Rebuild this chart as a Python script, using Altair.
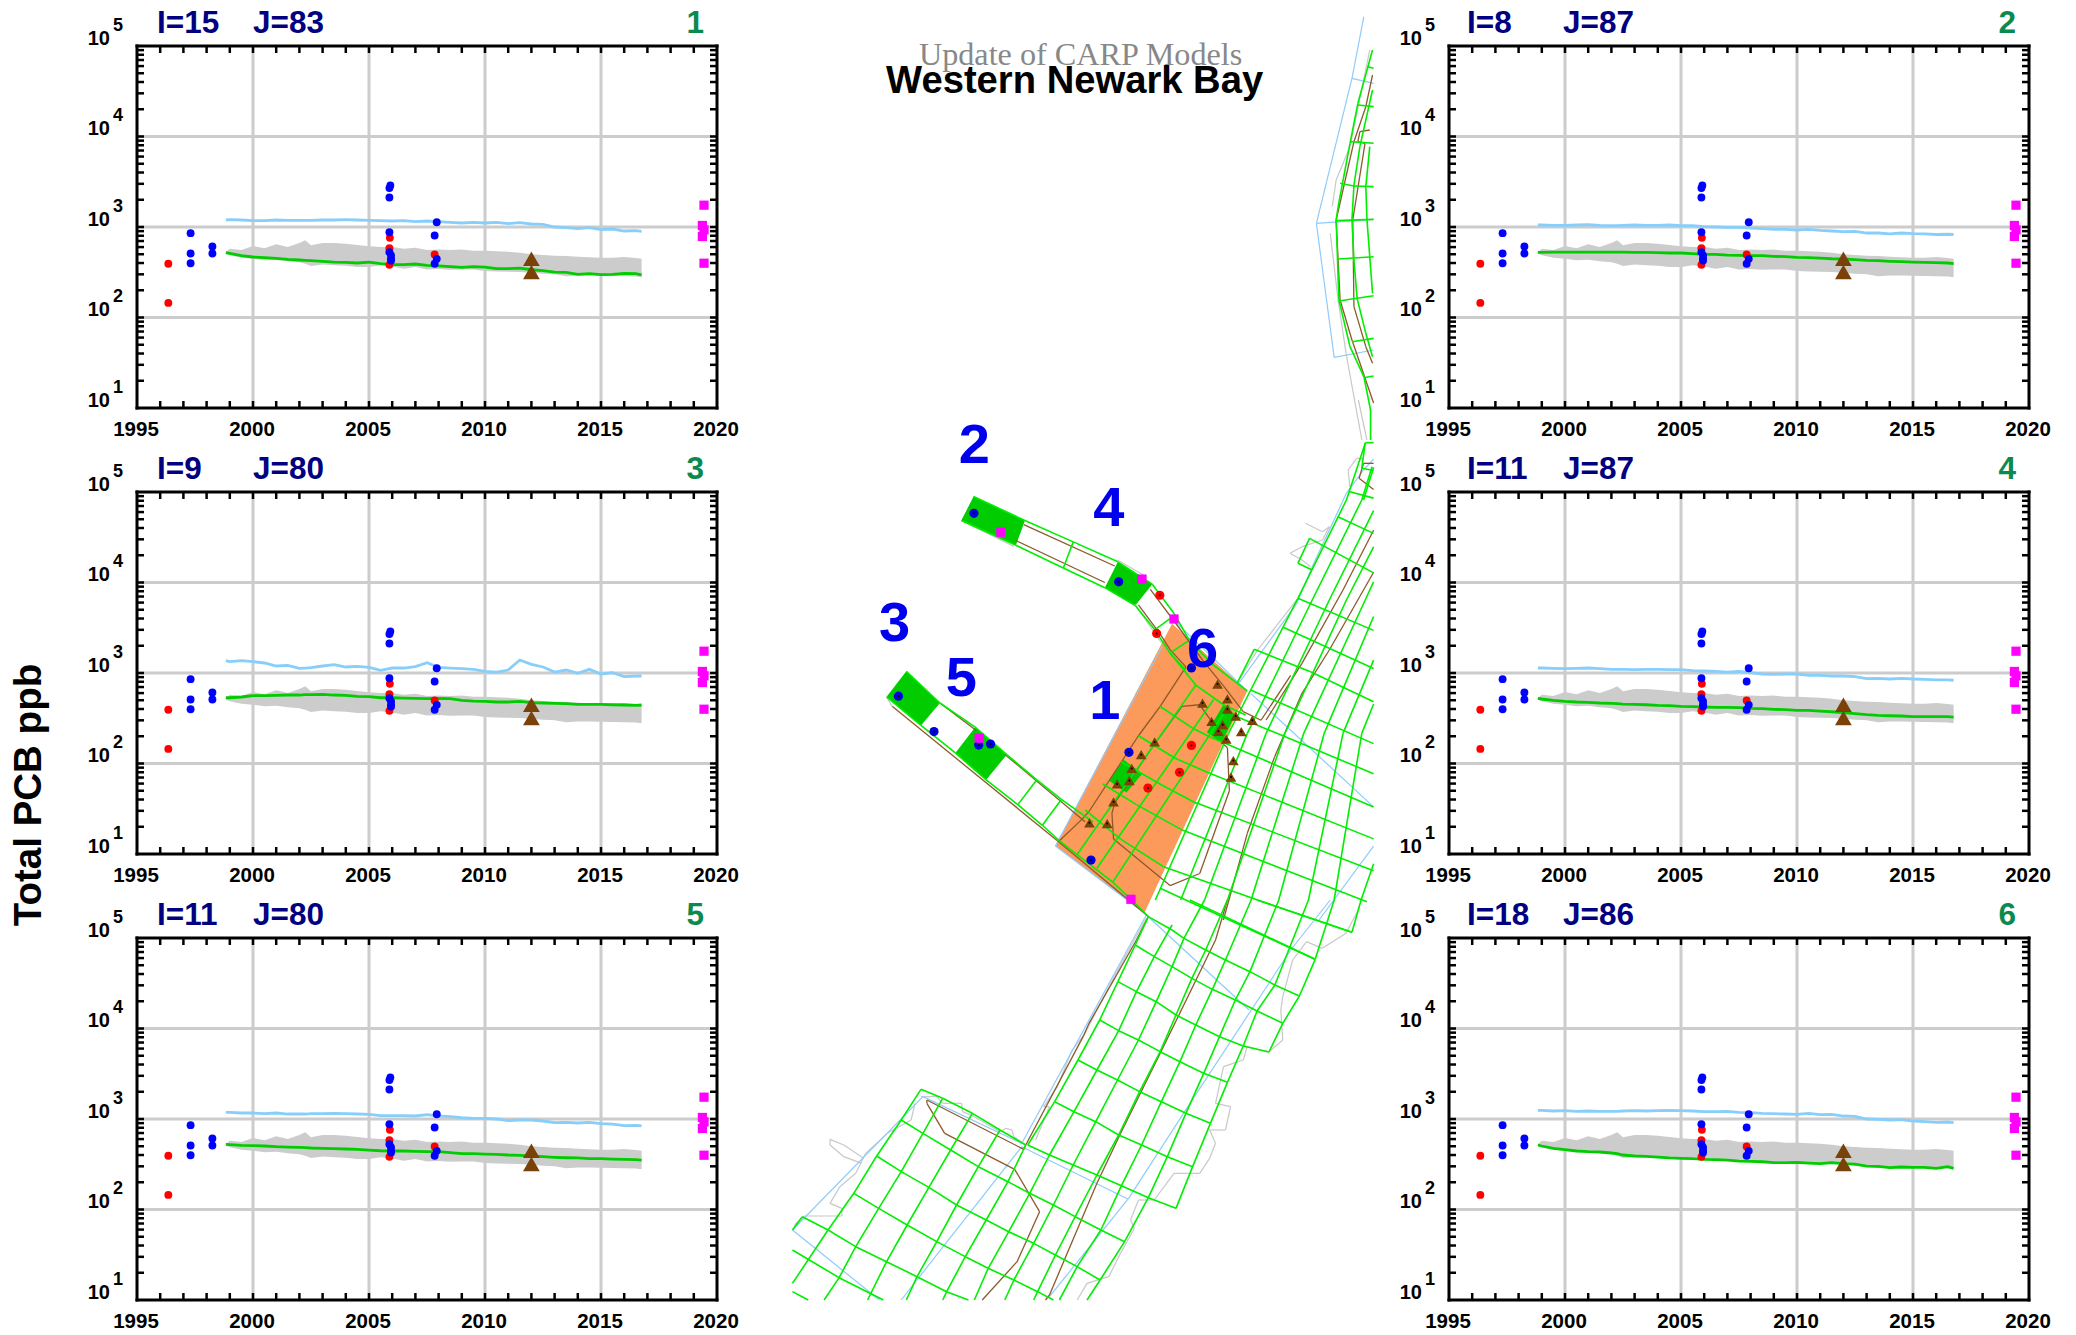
import altair as alt
import pandas as pd

FONT = "Liberation Sans"
YEARS = [1998.83, 1999, 1999.5, 2000, 2000.5, 2001, 2001.5, 2002, 2002.25, 2002.5, 2003, 2003.5, 2004, 2004.5,
         2005, 2005.5, 2006, 2006.5, 2007, 2007.5, 2008, 2008.5, 2009, 2009.5, 2010, 2010.5, 2011, 2011.5,
         2012, 2012.5, 2013, 2013.5, 2014, 2014.5, 2015, 2015.5, 2016, 2016.5, 2016.75]
BAND_HI = [529, 576, 558, 617, 583, 643, 601, 665, 712, 627, 665, 665, 654, 631, 612, 601, 601, 576, 590, 558, 563,
           558, 563, 547, 547, 538, 533, 520, 499, 490, 482, 478, 470, 462, 458, 458, 466, 454, 446]
BAND_LO = [507, 486, 458, 446, 428, 435, 418, 407, 393, 371, 386, 377, 373, 361, 361, 377, 367, 346, 361, 340, 343,
           337, 340, 340, 326, 323, 321, 318, 313, 305, 300, 285, 292, 292, 290, 287, 285, 283, 278]
SKY = {
    1: [1195, 1205, 1195, 1175, 1175, 1195, 1185, 1185, 1185, 1185, 1195, 1195, 1205, 1195, 1185, 1175, 1165, 1175, 1145, 1165, 1145, 1126, 1107, 1126, 1107, 1126, 1088, 1116, 1079, 1070, 1000, 983, 958, 983, 934, 950, 903, 911, 896],
    2: [1052, 1052, 1043, 1043, 1052, 1061, 1043, 1034, 1034, 1043, 1052, 1043, 1043, 1052, 1034, 1034, 1008, 1000, 992, 992, 975, 958, 942, 942, 926, 942, 919, 903, 888, 896, 858, 858, 838, 858, 844, 838, 826, 832, 826],
    3: [1368, 1335, 1368, 1335, 1290, 1195, 1215, 1126, 1135, 1145, 1195, 1236, 1165, 1185, 1155, 1070, 1135, 1135, 1175, 1301, 1155, 1135, 1116, 1097, 1043, 1025, 1079, 1392, 1247, 1165, 1025, 1079, 992, 1097, 975, 1008, 911, 926, 926],
    4: [1135, 1135, 1126, 1116, 1126, 1135, 1116, 1097, 1097, 1097, 1088, 1097, 1097, 1088, 1088, 1061, 1052, 1043, 1025, 1043, 1008, 975, 966, 975, 975, 942, 942, 926, 926, 911, 866, 873, 858, 873, 858, 851, 838, 838, 832],
    5: [1185, 1185, 1165, 1165, 1145, 1165, 1135, 1135, 1135, 1145, 1145, 1155, 1145, 1135, 1126, 1088, 1088, 1088, 1079, 1116, 1079, 1061, 1034, 1017, 1017, 1000, 958, 975, 975, 950, 911, 919, 903, 919, 888, 880, 844, 851, 838],
    6: [1247, 1247, 1226, 1236, 1215, 1226, 1215, 1215, 1215, 1226, 1236, 1226, 1236, 1247, 1236, 1226, 1205, 1205, 1215, 1185, 1175, 1155, 1145, 1135, 1126, 1155, 1116, 1126, 1079, 1070, 1000, 992, 975, 983, 950, 934, 919, 926, 911],
}
GREEN = {
    1: [520, 511, 482, 466, 458, 450, 439, 432, 428, 424, 418, 410, 407, 400, 410, 393, 383, 383, 390, 377, 371, 364, 358, 364, 361, 346, 346, 352, 337, 329, 318, 315, 300, 305, 297, 300, 307, 305, 295],
    2: [524, 524, 529, 529, 529, 529, 529, 529, 529, 529, 524, 524, 520, 516, 516, 507, 499, 499, 490, 486, 482, 482, 474, 470, 462, 458, 454, 446, 443, 435, 428, 424, 418, 414, 410, 407, 403, 400, 393],
    3: [533, 533, 543, 561, 561, 566, 571, 571, 576, 576, 581, 571, 566, 552, 547, 533, 533, 529, 524, 520, 524, 520, 499, 490, 486, 478, 478, 486, 470, 466, 462, 458, 450, 450, 450, 446, 443, 439, 443],
    4: [524, 516, 499, 486, 478, 474, 466, 462, 458, 454, 450, 446, 439, 435, 428, 424, 421, 418, 418, 414, 407, 403, 397, 393, 386, 386, 380, 373, 364, 355, 346, 340, 337, 335, 329, 329, 329, 329, 326],
    5: [524, 520, 511, 507, 503, 494, 490, 486, 482, 478, 474, 470, 466, 462, 454, 446, 443, 443, 439, 435, 435, 424, 414, 414, 410, 407, 400, 397, 390, 383, 377, 373, 371, 364, 364, 361, 358, 355, 352],
    6: [516, 503, 474, 458, 443, 435, 432, 421, 414, 400, 390, 386, 380, 371, 367, 364, 358, 355, 352, 343, 340, 337, 329, 329, 332, 326, 321, 329, 321, 318, 302, 300, 290, 295, 292, 292, 285, 297, 285],
}
RED_X = [1996.35, 1996.35, 2005.9, 2005.88, 2005.88, 2007.83]
RED_Y = [392, 145, 759, 583, 382, 496]
BLUE_X = [1997.31, 1997.31, 1997.31, 1998.25, 1998.25, 2005.92, 2005.88, 2005.88, 2005.88, 2005.88, 2005.95, 2005.95, 2005.95, 2007.92, 2007.83, 2007.92, 2007.83]
BLUE_Y = [855, 509, 398, 608, 509, 2878, 2690, 2120, 876, 527, 484, 445, 426, 1130, 805, 445, 392]
MAG_X = [2019.44, 2019.37, 2019.44, 2019.37, 2019.44]
MAG_Y = [1742, 1040, 931, 785, 398]
TRI_X = [2012, 2012]
TRI_Y = [445, 319]
PANEL_I = {1: "I=15", 2: "I=8", 3: "I=9", 4: "I=11", 5: "I=11", 6: "I=18"}
PANEL_J = {1: "J=83", 2: "J=87", 3: "J=80", 4: "J=87", 5: "J=80", 6: "J=86"}
XLAB = [1995, 2000, 2005, 2010, 2015, 2020]
XGRID = [2000, 2005, 2010, 2015]
XTICKS = list(range(1996, 2020))
DECADES = [10, 100, 1000, 10000, 100000]
EXPS = ["1", "2", "3", "4", "5"]
YTICKS = [m * 10 ** e for e in range(1, 5) for m in range(2, 10)] + [100, 1000, 10000]

W, H = 580, 362
xs = alt.Scale(domain=[1995, 2020], nice=False, zero=False)
ys = alt.Scale(type="log", domain=[10, 100000], nice=False)
axis_x = alt.Axis(values=XLAB, format="d", grid=False, domain=False, ticks=False, labelFont=FONT,
                  labelFontSize=20.5, labelFontWeight="bold", labelColor="black", labelPadding=11.5,
                  labelOffset=-1.5, labelOverlap=False, labelFlush=False, title=None)
Xn = alt.X("x:Q", scale=xs, axis=axis_x)
Yn = alt.Y("y:Q", scale=ys, axis=None)


def pts(xv, yv):
    return alt.Chart(pd.DataFrame({"x": xv, "y": yv}))


def panel(n, left=False):
    lay = []
    lay.append(pts(XGRID, [10] * 4).mark_rule(color="#cccccc", strokeWidth=3).encode(
        x=Xn, y=alt.value(0), y2=alt.value(H)))
    lay.append(pts([1995] * 3, [100, 1000, 10000]).mark_rule(color="#cccccc", strokeWidth=3).encode(
        y=Yn, x=alt.value(0), x2=alt.value(W)))
    band = pd.DataFrame({"x": YEARS, "y": BAND_HI, "y2": BAND_LO})
    lay.append(alt.Chart(band).mark_area(color="#cccccc").encode(x=Xn, y=Yn, y2="y2:Q"))
    lay.append(pts(YEARS, SKY[n]).mark_line(color="#87cefa", strokeWidth=2.8).encode(x=Xn, y=Yn))
    lay.append(pts(YEARS, GREEN[n]).mark_line(color="#00cc00", strokeWidth=2.8).encode(x=Xn, y=Yn))
    lay.append(pts(RED_X, RED_Y).mark_point(shape="circle", filled=True, color="#ff0000", size=62, opacity=1).encode(x=Xn, y=Yn))
    lay.append(pts(BLUE_X, BLUE_Y).mark_point(shape="circle", filled=True, color="#0000ff", size=62, opacity=1).encode(x=Xn, y=Yn))
    lay.append(pts(MAG_X, MAG_Y).mark_point(shape="square", filled=True, color="#ff00ff", size=85, opacity=1).encode(x=Xn, y=Yn))
    lay.append(pts(TRI_X, TRI_Y).mark_point(shape="triangle-up", filled=True, color="#7a4208", size=280, opacity=1).encode(x=Xn, y=Yn))
    # ticks
    lay.append(pts(XTICKS, [10] * len(XTICKS)).mark_rule(color="black", strokeWidth=2.5).encode(x=Xn, y=alt.value(H - 7), y2=alt.value(H)))
    lay.append(pts(XTICKS, [10] * len(XTICKS)).mark_rule(color="black", strokeWidth=2.5).encode(x=Xn, y=alt.value(0), y2=alt.value(7)))
    lay.append(pts([1995] * len(YTICKS), YTICKS).mark_rule(color="black", strokeWidth=2.5).encode(y=Yn, x=alt.value(0), x2=alt.value(7)))
    lay.append(pts([1995] * len(YTICKS), YTICKS).mark_rule(color="black", strokeWidth=2.5).encode(y=Yn, x=alt.value(W - 7), x2=alt.value(W)))
    # frame
    for xv in (0, W):
        lay.append(pts([1995], [10]).mark_rule(color="black", strokeWidth=3).encode(x=alt.value(xv), y=alt.value(-1.5), y2=alt.value(H + 1.5)))
    for yv in (0, H):
        lay.append(pts([1995], [10]).mark_rule(color="black", strokeWidth=3).encode(y=alt.value(yv), x=alt.value(-1.5), x2=alt.value(W + 1.5)))
    # y labels with superscript
    ylab = pd.DataFrame({"x": [1995] * 5, "y": DECADES, "b": ["10"] * 5, "e": EXPS})
    lay.append(alt.Chart(ylab).mark_text(font=FONT, fontSize=20, fontWeight="bold", align="right", baseline="alphabetic", dy=-1.5, color="black").encode(
        x=alt.value(-27), y=Yn, text="b:N"))
    lay.append(alt.Chart(ylab).mark_text(font=FONT, fontSize=18, fontWeight="bold", align="left", baseline="alphabetic", dy=-15.5, color="black").encode(
        x=alt.value(-24), y=Yn, text="e:N"))
    # panel captions
    off = 20 if left else 18
    lay.append(alt.Chart(pd.DataFrame({"t": [PANEL_I[n]]})).mark_text(font=FONT, fontSize=31.5, fontWeight="bold", align="left", baseline="alphabetic", color="#000080").encode(
        x=alt.value(off), y=alt.value(-13), text="t:N"))
    lay.append(alt.Chart(pd.DataFrame({"t": [PANEL_J[n]]})).mark_text(font=FONT, fontSize=31.5, fontWeight="bold", align="left", baseline="alphabetic", color="#000080").encode(
        x=alt.value(off + 96), y=alt.value(-13), text="t:N"))
    lay.append(alt.Chart(pd.DataFrame({"t": [str(n)]})).mark_text(font=FONT, fontSize=31.5, fontWeight="bold", align="right", baseline="alphabetic", color="#0a8a4e").encode(
        x=alt.value(W - 13), y=alt.value(-13), text="t:N"))
    if n == 3:
        lay.append(alt.Chart(pd.DataFrame({"t": ["Total PCB ppb"]})).mark_text(font=FONT, fontSize=38.5, fontWeight="bold", angle=270, align="center", baseline="middle", color="black").encode(
            x=alt.value(-108), y=alt.value(303), text="t:N"))
    if n == 1:
        lay.append(pts([1995], [10]).mark_rule(opacity=0).encode(x=alt.value(-128.4), x2=alt.value(-127), y=alt.value(-38), y2=alt.value(-37)))
    return alt.layer(*lay).properties(width=W, height=H)


# ---- map geometry, in the picture's own pixel frame ----
def z2(p): return [(780 + a / 2.529, 400 + b / 2.904) for a, b in p]
def z3(p): return [(780 + a / 2.529, b / 3.0) for a, b in p]
def z4(p): return [(780 + a / 2.529, 900 + b / 3.0) for a, b in p]
def z12(p): return [(1110 + a / 2.926, 400 + b / 3.0) for a, b in p]


ORANGE = z2([(990, 650), (1180, 845), (920, 1490), (695, 1295)])
CELLS = [z2(c) for c in [
    [(488, 280), (618, 350), (595, 422), (457, 350)],
    [(853, 470), (940, 535), (897, 597), (820, 545)],
    [(318, 788), (403, 880), (355, 945), (268, 862)],
    [(492, 950), (572, 1030), (520, 1103), (442, 1025)],
    [(868, 1045), (915, 1085), (875, 1140), (830, 1105)],
    [(1120, 885), (1150, 915), (1115, 995), (1078, 965)],
]]

GRID = [z2(l) for l in [
    [(488, 280), (618, 350), (740, 412), (853, 470), (940, 535), (995, 620), (1030, 690), (1065, 735), (1095, 770), (1180, 845)],
    [(457, 350), (595, 422), (715, 488), (820, 545), (897, 597), (945, 665), (985, 735), (1025, 785)],
    [(740, 412), (715, 488)], [(985, 635), (945, 668)], [(1030, 700), (985, 735)],
    [(318, 788), (403, 880), (492, 950), (572, 1030), (648, 1103), (710, 1160), (790, 1225)],
    [(268, 862), (355, 945), (442, 1025), (520, 1103), (600, 1175), (662, 1235), (705, 1280), (750, 1320), (840, 1400), (895, 1460), (930, 1500)],
    [(648, 1103), (600, 1175)], [(710, 1160), (662, 1235)],
    # inner grid in the orange basin
    [(1050, 828), (750, 1320)],
    [(1095, 870), (800, 1360)],
    [(1135, 885), (840, 1400)],
    [(985, 735), (1050, 828), (1120, 885), (1176, 915)],
    [(960, 890), (1042, 953), (1085, 978), (1124, 997)],
    [(905, 975), (999, 1041), (1085, 1084)],
    [(860, 1050), (964, 1118), (1051, 1171)],
    [(815, 1115), (900, 1175), (1016, 1249)],
    [(770, 1190), (860, 1275), (968, 1355)],
]]
GRID += [z12(l) for l in [
    # along the channel
    [(131, 1500), (345, 1000), (410, 870), (548, 595), (690, 300), (745, 130)],
    [(205, 1500), (400, 1000), (590, 600), (735, 300), (765, 200)],
    [(275, 1500), (455, 1000), (640, 600), (785, 300)],
    [(342, 1500), (510, 1000), (690, 600), (790, 400)],
    [(411, 1500), (565, 1000), (745, 600), (790, 500)],
    [(492, 1500), (625, 1000), (790, 600)],
    [(579, 1500), (680, 1000), (790, 730)],
    [(654, 1500), (735, 1000), (790, 860)],
    [(733, 1500), (790, 1330)],
    # across the channel
    [(145, 1465), (598, 1678)], [(155, 1400), (430, 1500), (706, 1597)],
    [(210, 1290), (750, 1505)], [(250, 1208), (790, 1420)], [(290, 1120), (790, 1325)],
    [(335, 1030), (790, 1230)], [(370, 950), (790, 1130)], [(410, 870), (790, 1040)],
    [(370, 850), (420, 748), (585, 815), (790, 915)], [(505, 682), (790, 815)], [(548, 595), (790, 700)],
    [(590, 510), (548, 490), (582, 415), (790, 530)], [(665, 350), (790, 410)], [(700, 275), (790, 300)],
    [(735, 205), (745, 128), (790, 128)], [(735, 205), (790, 215)],
    [(785, 25), (780, 90), (770, 200), (740, 300)],
]]
GRID += [z4(l) for l in [
    [(625, 735), (693, 605), (752, 480), (807, 360), (853, 245), (897, 135), (930, 50)],
    [(680, 765), (742, 635), (800, 510), (855, 392), (900, 275), (945, 170), (990, 75)],
    [(740, 795), (797, 665), (852, 540), (905, 420), (950, 305), (990, 200), (1020, 115), (1072, 0)],
    [(800, 825), (855, 705), (908, 575), (960, 455), (1000, 345), (1040, 235), (1075, 150), (1130, 0)],
    [(862, 857), (913, 735), (963, 605), (1010, 485), (1050, 375), (1092, 268), (1125, 180), (1190, 0)],
    [(930, 893), (978, 770), (1025, 640), (1070, 520), (1110, 410), (1150, 300), (1187, 215), (1260, 0)],
    [(1000, 925), (1042, 800), (1087, 670), (1130, 547), (1170, 438), (1205, 333), (1250, 255), (1335, 0)],
    [(1235, 456), (1270, 370), (1312, 288), (1352, 178), (1400, 0)],
    [(1445, 97), (1468, 0)],
    [(625, 735), (680, 765), (740, 795), (800, 825), (862, 857), (930, 893), (1000, 925)],
    [(693, 605), (742, 635), (797, 665), (855, 705), (913, 735), (978, 770), (1042, 800)],
    [(752, 480), (800, 510), (852, 540), (908, 575), (963, 605), (1025, 640), (1087, 670)],
    [(807, 360), (855, 392), (905, 420), (960, 455), (1010, 485), (1070, 520), (1130, 547)],
    [(853, 245), (900, 275), (950, 305), (1000, 345), (1050, 375), (1110, 410), (1170, 438), (1235, 456)],
    [(897, 135), (945, 170), (990, 200), (1040, 235), (1092, 268), (1150, 300), (1205, 333), (1270, 370)],
    [(930, 50), (990, 90), (1020, 115), (1075, 150), (1125, 180), (1187, 215), (1250, 255), (1312, 288)],
    [(1035, 0), (1352, 178)], [(1205, 0), (1445, 97)],
    # southern basin
    [(355, 568), (410, 595), (485, 640), (555, 690), (620, 735)],
    [(355, 568), (305, 660), (243, 768), (185, 880), (120, 990), (30, 1150)],
    [(410, 595), (360, 700), (305, 815), (248, 925), (190, 1040), (148, 1133), (110, 1200)],
    [(485, 640), (430, 750), (375, 862), (320, 975), (268, 1085), (220, 1200)],
    [(555, 690), (500, 800), (445, 915), (395, 1025), (345, 1130), (318, 1200)],
    [(620, 735), (575, 845), (520, 960), (467, 1070), (420, 1175), (410, 1200)],
    [(680, 765), (630, 880), (577, 995), (525, 1105), (490, 1200)],
    [(740, 795), (690, 915), (640, 1030), (590, 1140), (567, 1200)],
    [(800, 825), (745, 950), (695, 1065), (650, 1175), (640, 1200)],
    [(862, 857), (810, 990), (750, 1100), (705, 1200)],
    [(930, 893), (870, 1025), (808, 1140), (775, 1200)],
    [(305, 660), (360, 700), (430, 750), (500, 800), (575, 845), (630, 880), (690, 915), (745, 950), (810, 990), (870, 1025)],
    [(243, 768), (305, 815), (375, 862), (445, 915), (520, 960), (577, 995), (640, 1030), (695, 1065), (750, 1100), (808, 1140)],
    [(185, 880), (248, 925), (320, 975), (395, 1025), (467, 1070), (525, 1105), (590, 1140), (650, 1175), (690, 1200)],
    [(55, 950), (120, 990), (190, 1040), (268, 1085), (345, 1130), (420, 1175), (475, 1200)],
    [(30, 1050), (148, 1133), (260, 1200)], [(30, 1175), (70, 1200)], [(55, 950), (30, 990)],
]]
GRID += [z3(l) for l in [
    [(1497, 150), (1460, 310), (1440, 430), (1410, 620), (1405, 660), (1412, 900), (1440, 1040), (1475, 1130), (1492, 1230), (1492, 1320)],
    [(1497, 270), (1465, 440), (1450, 555), (1445, 660), (1450, 780), (1458, 895), (1480, 1000), (1497, 1070)],
    [(1490, 440), (1480, 560), (1483, 660), (1497, 880)],
    [(1485, 200), (1500, 205)], [(1460, 315), (1500, 320)], [(1440, 425), (1500, 430)], [(1415, 550), (1450, 558), (1500, 560)],
    [(1405, 662), (1500, 658)], [(1410, 777), (1500, 770)], [(1412, 903), (1500, 887)], [(1445, 1025), (1500, 1015)], [(1475, 1133), (1500, 1128)],
]]

BROWN = [z2(l) for l in [
    [(615, 362), (845, 482)], [(595, 408), (820, 530)],
    [(905, 595), (960, 680), (985, 725), (1025, 775), (960, 890), (905, 975), (780, 1195), (760, 1220), (705, 1280)],
    [(935, 550), (1010, 665), (1070, 760), (1120, 830), (1170, 905), (1215, 930), (1290, 800)],
    [(403, 880), (495, 960)], [(568, 1030), (770, 1225)],
    [(283, 890), (700, 1280), (930, 1500)],
    [(1060, 885), (1015, 890), (945, 1000), (845, 1170), (838, 1200), (842, 1275), (985, 1410), (1060, 1375), (1135, 1135), (1130, 1010), (1115, 995)],
    [(1060, 885), (1090, 933)],
]]
BROWN += [z12(l) for l in [
    [(455, 960), (560, 790), (680, 570), (790, 350)],
    [(790, 480), (640, 750), (560, 880), (480, 1070), (400, 1300), (330, 1560)],
    [(790, 190), (740, 190), (727, 235), (790, 285)],
]]
BROWN += [z4(l) for l in [
    [(930, 50), (900, 120), (780, 370), (765, 410), (620, 735), (615, 748), (370, 600), (370, 610), (415, 700), (592, 808), (655, 935), (598, 1085), (510, 1200)],
    [(1100, 120), (960, 460), (860, 700), (800, 850), (680, 1185), (670, 1200)],
    [(1130, 0), (1100, 120)],
]]
BROWN += [z3(l) for l in [
    [(1497, 225), (1480, 320), (1450, 425), (1405, 660), (1415, 900), (1445, 1020), (1500, 1210)],
    [(1490, 390), (1465, 395), (1460, 425), (1478, 430), (1447, 660), (1450, 920), (1480, 1040), (1497, 1090)],
]]

SHORE = [z3(l) for l in [
    [(1475, 50), (1445, 235), (1355, 670), (1400, 1072), (1500, 1050)],
    [(1445, 235), (1500, 250)], [(1355, 670), (1500, 658)],
]]
SHORE += [z12(l) for l in [
    [(790, 155), (740, 210), (690, 280), (590, 500), (545, 610), (375, 850)],
    [(410, 880), (790, 1240)], [(790, 1310), (610, 1560)],
]]
SHORE += [z2(l) for l in [
    [(695, 1295), (965, 715)], [(995, 640), (1180, 845)], [(695, 1295), (920, 1490)],
]]
SHORE += [z4(l) for l in [
    [(925, 45), (610, 730), (360, 590), (30, 990), (250, 1200)],
    [(925, 45), (1185, 330)],
    [(1390, 0), (1290, 150), (1030, 620), (880, 895), (680, 1190)],
    [(610, 740), (878, 897)], [(305, 1200), (610, 740)],
]]

LAND = [z4(l) for l in [
    [(925, 55), (890, 130), (830, 260), (770, 400), (735, 455), (700, 560), (665, 620), (680, 620), (645, 720)],
    [(355, 590), (395, 590), (410, 610), (458, 610), (460, 635), (490, 650), (555, 695), (570, 685), (585, 690), (590, 710), (620, 735)],
    [(340, 610), (330, 660), (270, 700), (215, 760), (190, 820), (150, 860), (125, 910), (155, 925), (155, 948), (60, 948), (35, 975)],
    [(205, 790), (160, 770), (125, 735), (125, 718), (160, 735), (210, 775)],
    [(1465, 20), (1430, 100), (1370, 145), (1330, 125), (1295, 180), (1270, 290), (1265, 330), (1270, 420), (1235, 456), (1180, 440), (1170, 480), (1120, 500), (1100, 610), (1138, 620), (1125, 690), (1085, 690), (1100, 730), (1085, 775), (1060, 820), (995, 820), (945, 900), (905, 900), (885, 960), (895, 985), (860, 1060), (830, 1130), (775, 1150), (750, 1200)],
]]
LAND += [z3(l) for l in [
    [(1490, 150), (1440, 440), (1405, 540), (1395, 620)],
    [(1390, 700), (1410, 900), (1430, 1060), (1470, 1320)],
]]
LAND += [z12(l) for l in [
    [(725, 0), (750, 120)], [(700, 260), (695, 210), (720, 175), (740, 175)],
    [(570, 370), (620, 395), (640, 380), (620, 420), (560, 440), (525, 460), (560, 480), (585, 500)],
    [(548, 595), (430, 750), (370, 850)], [(105, 530), (20, 480)], [(70, 612), (150, 730)],
]]
LAND += [z2(l) for l in [[(268, 862), (283, 892)], [(457, 350), (590, 425)]]]

MAP_BLUE = z2([(489, 329), (855, 528), (1039, 778), (881, 1023), (785, 1336), (298, 860), (388, 963), (501, 1002), (531, 999)])
MAP_RED = z2([(959, 567), (951, 678), (1039, 1003), (1009, 1081), (929, 1127)])
MAP_MAG = z2([(557, 384), (914, 520), (995, 636), (502, 982), (886, 1450)])
MAP_TRI = z2([(1105, 825), (1130, 868), (1067, 880), (1130, 898), (1151, 918), (1193, 930), (1090, 933), (1118, 943), (1107, 962), (1165, 963), (1127, 985), (946, 993), (912, 1030), (1145, 1047), (888, 1070), (882, 1105), (851, 1115), (1139, 1095), (842, 1167), (781, 1228), (826, 1230)])
MAP_NUM = ["1", "2", "3", "4", "5", "6"]
MAP_NUM_POS = z2([(820, 925), (490, 182), (288, 700), (830, 367), (457, 860), (1067, 775)])
BOX = (791.0, 1373.0, 8.0, 1300.0)


def clip_seg(a, b):
    x0, y0 = a
    x1, y1 = b
    t0, t1 = 0.0, 1.0
    dx, dy = x1 - x0, y1 - y0
    for p, q in ((-dx, x0 - BOX[0]), (dx, BOX[1] - x0), (-dy, y0 - BOX[2]), (dy, BOX[3] - y0)):
        if p == 0:
            if q < 0:
                return None
        else:
            r = q / p
            if p < 0:
                t0 = max(t0, r)
            else:
                t1 = min(t1, r)
    if t0 > t1:
        return None
    return (x0 + t0 * dx, y0 + t0 * dy, x0 + t1 * dx, y0 + t1 * dy)


def segs(lines):
    rows = []
    for l in lines:
        for a, b in zip(l[:-1], l[1:]):
            c = clip_seg(a, b)
            if c:
                rows.append(dict(x=c[0], y=c[1], x2=c[2], y2=c[3]))
    return pd.DataFrame(rows)


def spans(poly, pid):
    xs_ = sorted(set(p[0] for p in poly))
    rows = []
    for xv in xs_:
        yy = []
        for (a, b), (c, d) in zip(poly, poly[1:] + poly[:1]):
            if min(a, c) <= xv <= max(a, c):
                if a == c:
                    yy += [b, d]
                else:
                    yy.append(b + (xv - a) / (c - a) * (d - b))
        rows.append(dict(id=pid, x=xv, y=min(yy), y2=max(yy)))
    return rows


MW = 732
mx = alt.X("x:Q", scale=alt.Scale(domain=[716.4, 1448.4], nice=False, zero=False), axis=None)
my = alt.Y("y:Q", scale=alt.Scale(domain=[46, 46 + H], nice=False, zero=False, reverse=True), axis=None)


def xy(p):
    return alt.Chart(pd.DataFrame({"x": [a for a, b in p], "y": [b for a, b in p]}))


map_layers = [
    alt.Chart(pd.DataFrame(spans(ORANGE, 0))).mark_area(color="#fb9a5a").encode(x=mx, y=my, y2="y2:Q"),
    alt.Chart(pd.DataFrame([r for i, c in enumerate(CELLS) for r in spans(c, i)])).mark_area(color="#00cc00").encode(x=mx, y=my, y2="y2:Q", detail="id:N"),
    alt.Chart(segs(LAND)).mark_rule(color="#c8c8c8", strokeWidth=1.2).encode(x=mx, y=my, x2="x2:Q", y2="y2:Q"),
    alt.Chart(segs(SHORE)).mark_rule(color="#8fcbfb", strokeWidth=1.2).encode(x=mx, y=my, x2="x2:Q", y2="y2:Q"),
    alt.Chart(segs(BROWN)).mark_rule(color="#8b5a2b", strokeWidth=1.3).encode(x=mx, y=my, x2="x2:Q", y2="y2:Q"),
    alt.Chart(segs(GRID)).mark_rule(color="#00ee00", strokeWidth=1.6).encode(x=mx, y=my, x2="x2:Q", y2="y2:Q"),
    xy(MAP_TRI).mark_point(shape="triangle-up", filled=True, color="#7a4208", size=115, opacity=1).encode(x=mx, y=my),
    xy(MAP_RED).mark_point(shape="circle", filled=True, color="#ff0000", size=85, opacity=1).encode(x=mx, y=my),
    xy(MAP_BLUE).mark_point(shape="circle", filled=True, color="#0000dd", size=85, opacity=1).encode(x=mx, y=my),
    xy(MAP_TRI + MAP_RED + MAP_BLUE).mark_point(shape="circle", filled=True, color="black", size=4, opacity=1).encode(x=mx, y=my),
    xy(MAP_MAG).mark_point(shape="square", filled=True, color="#ff00ff", size=85, opacity=1).encode(x=mx, y=my),
    alt.Chart(pd.DataFrame({"x": [a for a, b in MAP_NUM_POS], "y": [b for a, b in MAP_NUM_POS], "t": MAP_NUM})).mark_text(
        font=FONT, fontSize=56, fontWeight="bold", baseline="alphabetic", align="center", color="#0000ee").encode(x=mx, y=my, text="t:N"),
    alt.Chart(pd.DataFrame({"x": [1080], "y": [65], "t": ["Update of CARP Models"]})).mark_text(
        font="Liberation Serif", fontSize=32.2, baseline="alphabetic", align="center", color="#888888").encode(x=mx, y=my, text="t:N"),
    alt.Chart(pd.DataFrame({"x": [1074], "y": [93], "t": ["Western Newark Bay"]})).mark_text(
        font=FONT, fontSize=38.2, fontWeight="bold", baseline="alphabetic", align="center", color="black").encode(x=mx, y=my, text="t:N"),
]
map_panel = alt.layer(*map_layers).properties(width=MW, height=H)


def spacer():
    return alt.Chart(pd.DataFrame({"x": [0]})).mark_rule(opacity=0).encode(x=alt.value(0)).properties(width=MW, height=H)


chart = alt.concat(panel(1, True), map_panel, panel(2),
                   panel(3, True), spacer(), panel(4),
                   panel(5, True), spacer(), panel(6),
                   columns=3, spacing=alt.RowColnumber(row=84, column=0), bounds="flush").properties(
    padding=0, background="white").configure_view(stroke=None)
chart.save("out.html", embed_options={"renderer": "svg", "actions": False})
